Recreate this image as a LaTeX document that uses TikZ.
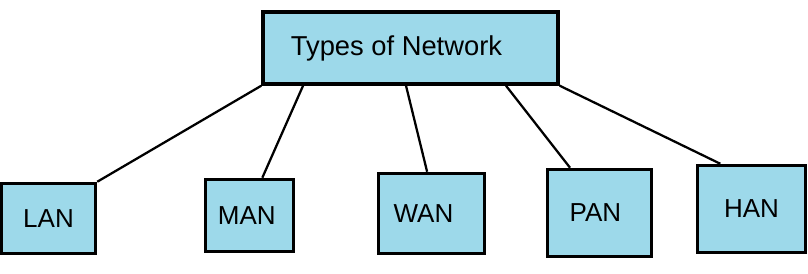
\documentclass[tikz,border=0pt]{standalone}
\usepackage{fontspec}
\setmainfont{Liberation Sans}
\usetikzlibrary{calc}
\definecolor{netblue}{RGB}{157,217,234}
\tikzset{
  netbox/.style={draw,line width=2.6pt,fill=netblue,font=\fontsize{19.5}{22}\selectfont,inner sep=0pt},
  topbox/.style={netbox,font=\fontsize{20.5}{24}\selectfont},
  link/.style={line width=1.7pt}
}

\begin{document}
\begin{tikzpicture}[x=0.75pt,y=-0.75pt]
\useasboundingbox (0,0) rectangle (808,274);
\node[topbox,minimum width=221.25pt,minimum height=54pt](top) at (410.5,48){Types of Network\hspace*{21pt}\mbox{}};
\node[netbox,minimum width=70.5pt,minimum height=52.5pt](lan) at (48.5,218.5){LAN};
\node[netbox,minimum width=66pt,minimum height=54pt](man) at (249.5,215.5){MAN\hspace*{4pt}\mbox{}};
\node[netbox,minimum width=79.5pt,minimum height=60pt](wan) at (431.5,213.5){WAN\hspace*{12pt}\mbox{}};
\node[netbox,minimum width=78pt,minimum height=65.25pt](pan) at (599.5,213){PAN\hspace*{6pt}\mbox{}};
\node[netbox,minimum width=81pt,minimum height=65.25pt](han) at (751.5,209){HAN};
% links from the top box
\draw[link](top.south west)--(lan.north east);
\draw[link]($(top.south west)!0.14!(top.south east)$)--($(man.north west)!0.64!(man.north east)$);
\draw[link]($(top.south west)!0.485!(top.south east)$)--($(wan.north west)!0.46!(wan.north east)$);
\draw[link]($(top.south west)!0.82!(top.south east)$)--($(pan.north west)!0.226!(pan.north east)$);
\draw[link](top.south east)--($(han.north west)!0.22!(han.north east)$);
\end{tikzpicture}
\end{document}
